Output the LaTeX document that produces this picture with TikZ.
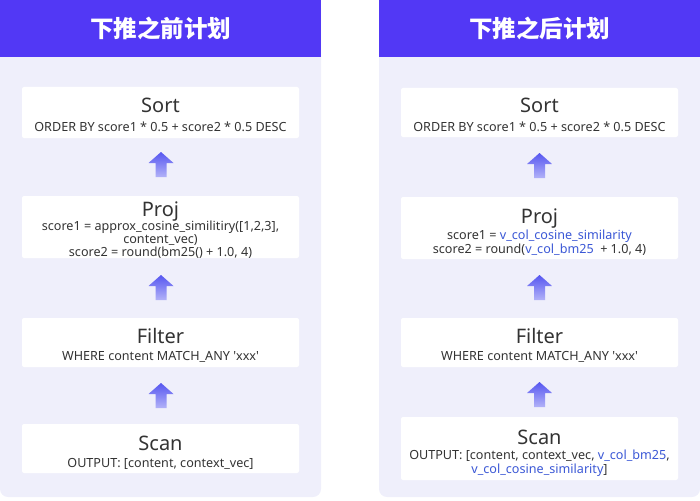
\documentclass[tikz,border=0pt]{standalone}
\usepackage{fontspec}
\setmainfont{Noto Sans}[Ligatures=TeXOff]
\newfontfamily\cjkfont{Noto Sans CJK SC}
\definecolor{hdr}{HTML}{5238F5}
\definecolor{panelbg}{HTML}{EFEFFB}
\definecolor{txt}{HTML}{333333}
\definecolor{hl}{HTML}{3B58D6}
\definecolor{arrtop}{HTML}{5656F0}
\definecolor{arrbot}{HTML}{B2B2F8}
\newcommand{\hlt}[1]{\textcolor{hl}{#1}}
\newcommand{\blockup}[2]{%
  \shade[top color=arrtop, bottom color=arrbot, shift={(#1,#2)}]
    (0,0) -- (12.5,11) -- (5.5,11) -- (5.5,25) -- (-5.5,25) -- (-5.5,11) -- (-12.5,11) -- cycle;}
\begin{document}
\begin{tikzpicture}[x=1pt,y=-1pt,
  box/.style={fill=white, rounded corners=2pt, inner sep=0pt, minimum width=277pt},
  ttl/.style={font=\fontsize{20}{20}\selectfont, text=txt, anchor=base, inner sep=0pt},
  sub/.style={font=\fontsize{12.6}{13}\selectfont, text=txt, anchor=base, inner sep=0pt},
  head/.style={font=\cjkfont\bfseries\fontsize{23.5}{24}\selectfont, text=white},
]
\useasboundingbox (0,0) rectangle (700,500);
% panels
\fill[panelbg, rounded corners=8pt] (0,0) rectangle (321,497);
\fill[hdr] (0,0) rectangle (321,57);
\fill[panelbg, rounded corners=8pt] (379,0) rectangle (700,497);
\fill[hdr] (379,0) rectangle (700,57);
\node[head] (hL) at (160.5,28.5) {下推之前计划};
\node[head] (hR) at (539.5,28.5) {下推之后计划};

% ---------- left ----------
\node[box, minimum height=51pt] (sortL) at (160.5,112.5) {};
\node[ttl] (sortLt) at (160.5,113) {Sort};
\node[sub] (sortLs) at (160.5,131) {ORDER BY score1 * 0.5 + score2 * 0.5 DESC};

\node[box, minimum height=62pt] (projL) at (160.5,227) {};
\node[ttl] (projLt) at (160.5,216) {Proj};
\node[sub] (projL1) at (160.5,230) {score1 = approx\_cosine\_similitiry([1,2,3],};
\node[sub] (projL2) at (160.5,243.5) {content\_vec)};
\node[sub] (projL3) at (160.5,256.5) {score2 = round(bm25() + 1.0, 4)};

\node[box, minimum height=49pt] (filtL) at (160.5,342.5) {};
\node[ttl] (filtLt) at (160.5,343) {Filter};
\node[sub] (filtLs) at (160.5,360) {WHERE content MATCH\_ANY 'xxx'};

\node[box, minimum height=49pt] (scanL) at (160.5,448.5) {};
\node[ttl] (scanLt) at (160.5,450) {Scan};
\node[sub] (scanLs) at (160.5,467) {OUTPUT: [content, context\_vec]};

\blockup{161}{152}
\blockup{161}{275}
\blockup{161}{383}

% ---------- right ----------
\node[box, minimum height=49pt] (sortR) at (539.5,112.5) {};
\node[ttl] (sortRt) at (539.5,113) {Sort};
\node[sub] (sortRs) at (539.5,131) {ORDER BY score1 * 0.5 + score2 * 0.5 DESC};

\node[box, minimum height=62pt] (projR) at (539.5,228) {};
\node[ttl] (projRt) at (539.5,223) {Proj};
\node[sub] (projR1) at (539.5,239) {score1 = \hlt{v\_col\_cosine\_similarity}};
\node[sub] (projR2) at (539.5,253) {score2 = round(\hlt{v\_col\_bm25}\ \ + 1.0, 4)};

\node[box, minimum height=49pt] (filtR) at (539.5,342.5) {};
\node[ttl] (filtRt) at (539.5,343) {Filter};
\node[sub] (filtRs) at (539.5,360) {WHERE content MATCH\_ANY 'xxx'};

\node[box, minimum height=63pt] (scanR) at (539.5,448.5) {};
\node[ttl] (scanRt) at (539.5,444) {Scan};
\node[sub] (scanR1) at (539.5,459) {OUTPUT: [content, context\_vec, \hlt{v\_col\_bm25},};
\node[sub] (scanR2) at (539.5,473) {\hlt{v\_col\_cosine\_similarity}]};

\blockup{539.5}{153}
\blockup{539.5}{275}
\blockup{539.5}{382}
\end{tikzpicture}
\end{document}
